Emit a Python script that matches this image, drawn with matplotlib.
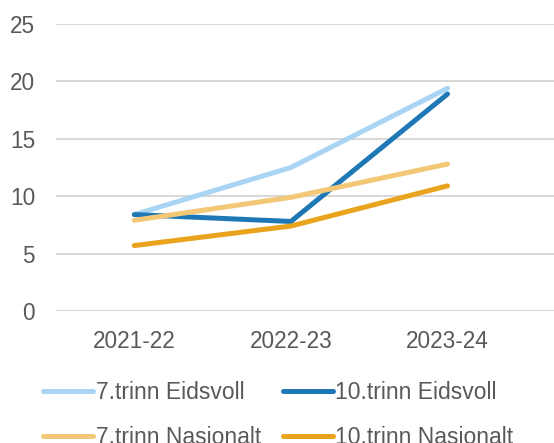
import matplotlib.pyplot as plt

plt.rcParams['font.family'] = ['Liberation Sans', 'DejaVu Sans']

years = ["2021-22", "2022-23", "2023-24"]
trinn7_eidsvoll = [8.4, 12.5, 19.4]
trinn10_eidsvoll = [8.4, 7.8, 18.9]
trinn7_nasjonalt = [7.9, 9.9, 12.8]
trinn10_nasjonalt = [5.7, 7.4, 10.9]

series = [
    ("7.trinn Eidsvoll", trinn7_eidsvoll, "#A9D4F3"),
    ("10.trinn Eidsvoll", trinn10_eidsvoll, "#1F78B6"),
    ("7.trinn Nasjonalt", trinn7_nasjonalt, "#F2C877"),
    ("10.trinn Nasjonalt", trinn10_nasjonalt, "#E9A31D"),
]

fig = plt.figure(figsize=(5.54, 4.43), dpi=100)
ax = fig.add_axes([56 / 554, (443 - 311) / 443, 1 - 56 / 554, (311 - 24) / 443])

x = range(len(years))
lines = []
for label, vals, col in series:
    ln, = ax.plot(x, vals, color=col, linewidth=3.6, label=label,
                  solid_capstyle='round', solid_joinstyle='round')
    lines.append(ln)

ax.set_ylim(0, 25)
ax.set_yticks([0, 5, 10, 15, 20, 25])
ax.set_xlim(-0.5, 2.68)
ax.set_xticks(list(x))
ax.set_xticklabels(years)
ax.grid(axis='y', color='#D9D9D9', linewidth=1.5)
ax.set_axisbelow(True)
for s in ax.spines.values():
    s.set_visible(False)
ax.tick_params(axis='both', length=0, labelsize=16.3, labelcolor='#595959')
ax.tick_params(axis='x', pad=14)
ax.tick_params(axis='y', pad=15)

# matplotlib fills legend columns first, so reorder to get row order
order = [0, 2, 1, 3]
leg = fig.legend([lines[i] for i in order], [series[i][0] for i in order],
                 loc='upper left', bbox_to_anchor=(43 / 554, 1 - 381 / 443),
                 ncol=2, frameon=False, fontsize=16.5, handlelength=2.2,
                 handletextpad=0.1, columnspacing=0.95, labelspacing=0.95,
                 borderaxespad=0, borderpad=0)
for t in leg.get_texts():
    t.set_color('#595959')

fig.savefig("out.png", dpi=100)
